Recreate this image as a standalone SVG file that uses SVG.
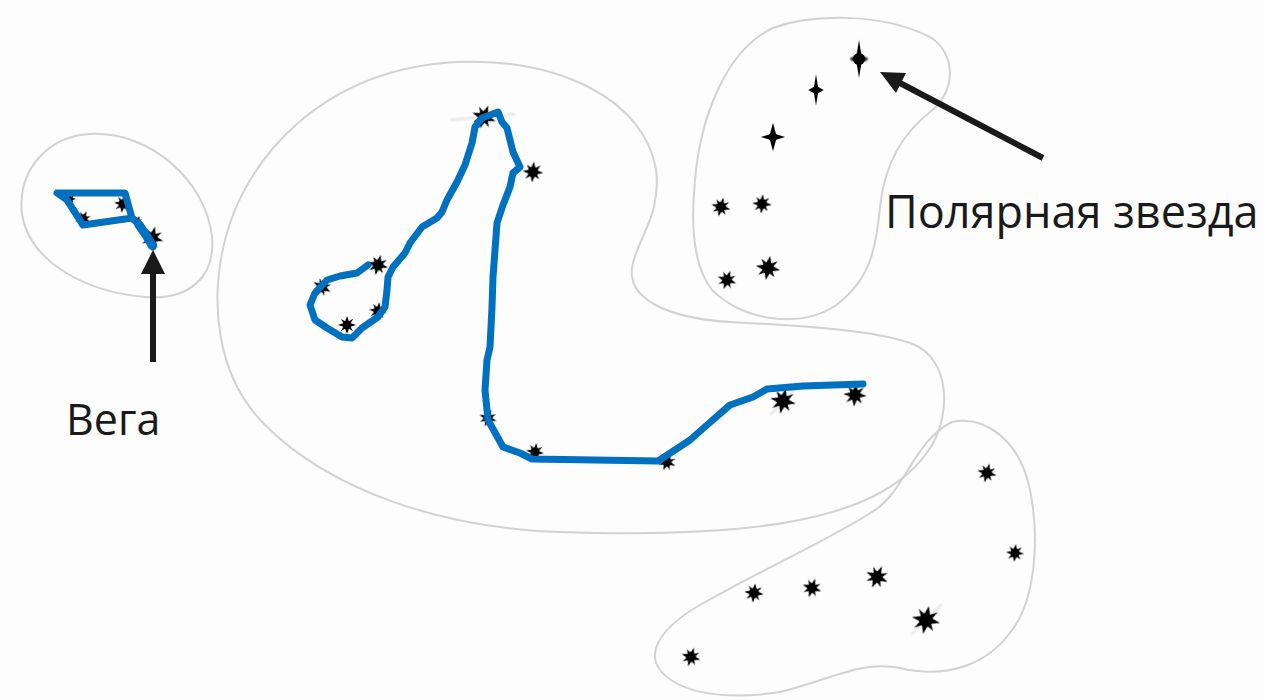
<svg xmlns="http://www.w3.org/2000/svg" width="1263" height="700" viewBox="0 0 1263 700">
  <style>
    .blob { fill: none; stroke: #d2d2d2; stroke-width: 2; }
    .route { fill: none; stroke: #0070c0; stroke-width: 7; stroke-linejoin: round; stroke-linecap: round; }
    .star { fill: #000; filter: url(#soft); }
    .glint { stroke: #999; stroke-width: 1.4; opacity: 0.4; filter: url(#haze); }
    .label { font-family: "Open Sans", "Liberation Sans", sans-serif; fill: #1a1a1a; }
    .pointer { fill: #1a1a1a; stroke: none; }
  </style>
  <defs>
    <filter id="soft" x="-50%" y="-50%" width="200%" height="200%">
      <feGaussianBlur stdDeviation="0.7"/>
    </filter>
    <filter id="haze" x="-50%" y="-50%" width="200%" height="200%">
      <feGaussianBlur stdDeviation="1.2"/>
    </filter>
    <!-- eight-ray star -->
    <symbol id="star8" overflow="visible">
      <polygon class="star" points="0,-13 2.6,-5.2 9,-9 5.2,-2.6 13,0 5.2,2.6 8.5,8.5 2.6,5.2 0,13 -2.6,5.2 -9,9 -5.2,2.6 -13,0 -5.2,-2.6 -8.5,-8.5 -2.6,-5.2"/>
      <circle class="star" r="6"/>
    </symbol>
    <!-- four-ray sparkle -->
    <symbol id="star4" overflow="visible">
      <polygon class="star" points="0,-15 2.8,-3 11,0 2.8,3 0,15 -2.8,3 -11,0 -2.8,-3"/>
      <circle class="star" r="4"/>
    </symbol>
  </defs>

  <rect width="1263" height="700" fill="#fdfdfd"/>

  <!-- constellation outlines -->
  <g id="outlines">
    <path id="lyra-outline" class="blob" d="M90,134 C150,131 205,180 212,236 C216,280 186,300 146,297 C90,293 30,264 22,214 C17,168 50,136 90,134 Z"/>
    <path id="draco-outline" class="blob" d="M455,62 C560,58 645,100 656,170 C662,215 636,240 632,268 C628,298 665,318 730,322 C800,326 880,330 915,345 C948,360 952,410 932,445 C905,490 850,512 783,523 C730,532 650,535 560,532 C440,528 330,490 265,425 C215,375 210,300 225,240 C245,160 320,70 455,62 Z"/>
    <path id="umi-outline" class="blob" d="M773,28 C810,14 880,12 930,37 C955,52 958,90 930,112 C905,132 885,160 880,207 C876,250 870,280 835,306 C800,328 745,322 712,290 C690,262 692,210 695,180 C700,120 725,50 773,28 Z"/>
    <path id="cas-outline" class="blob" d="M952,422 C985,415 1020,440 1030,490 C1040,540 1035,600 1012,630 C990,662 950,680 900,668 C860,660 830,680 780,692 C730,700 680,695 660,670 C645,650 665,625 700,605 C760,570 830,540 875,510 C905,490 915,440 952,422 Z"/>
  </g>

  <!-- faint glints around the brighter stars -->
  <g id="glints">
    <line class="glint" x1="484" y1="88" x2="484" y2="158"/>
    <line class="glint" x1="450" y1="120" x2="515" y2="114"/>
    <line class="glint" x1="859" y1="30" x2="859" y2="95"/>
    <line class="glint" x1="816" y1="66" x2="816" y2="116"/>
    <line class="glint" x1="773" y1="114" x2="773" y2="162"/>
    <line class="glint" x1="152" y1="220" x2="152" y2="258"/>
    <line class="glint" x1="298" y1="287" x2="346" y2="287"/>
    <line class="glint" x1="123" y1="184" x2="123" y2="224"/>
    <line class="glint" x1="83" y1="202" x2="83" y2="240"/>
    <line class="glint" x1="912" y1="634" x2="942" y2="604"/>
    <line class="glint" x1="770" y1="415" x2="798" y2="386"/>
  </g>

  <!-- stars -->
  <g id="stars">
    <g id="lyra-stars">
      <use href="#star8" transform="translate(123,204) scale(0.7) rotate(10)"/>
      <use href="#star8" transform="translate(83,219) scale(0.65) rotate(25)"/>
      <use href="#star8" transform="translate(152,238) scale(0.9) rotate(15)"/>
      <use href="#star8" transform="translate(137,221) scale(0.45) rotate(30)"/>
      <use href="#star8" transform="translate(70,199) scale(0.45)"/>
    </g>
    <g id="draco-stars">
      <use href="#star8" transform="translate(484,117) scale(0.95) rotate(20)"/>
      <use href="#star8" transform="translate(533,172) scale(0.8) rotate(5)"/>
      <use href="#star8" transform="translate(378,265) scale(0.8) rotate(15)"/>
      <use href="#star8" transform="translate(322,287) scale(0.75) rotate(30)"/>
      <use href="#star8" transform="translate(378,311) scale(0.7) rotate(10)"/>
      <use href="#star8" transform="translate(347,325) scale(0.7)"/>
      <use href="#star8" transform="translate(488,418) scale(0.7) rotate(20)"/>
      <use href="#star8" transform="translate(535,452) scale(0.7) rotate(10)"/>
      <use href="#star8" transform="translate(667,462) scale(0.7) rotate(25)"/>
      <use href="#star8" transform="translate(783,401) scale(1) rotate(12)"/>
      <use href="#star8" transform="translate(855,395) scale(0.9) rotate(5)"/>
    </g>
    <g id="umi-stars">
      <use href="#star4" transform="translate(859,59) scale(0.9,1.25)"/>
      <circle cx="859" cy="59" r="6" class="star"/>
      <use href="#star4" transform="translate(816,90) scale(0.7,1.05)"/>
      <use href="#star4" transform="translate(773,137) scale(1.1,0.95)"/>
      <use href="#star8" transform="translate(721,207) scale(0.75) rotate(15)"/>
      <use href="#star8" transform="translate(762,204) scale(0.75) rotate(5)"/>
      <use href="#star8" transform="translate(727,280) scale(0.75) rotate(20)"/>
      <use href="#star8" transform="translate(768,268) scale(0.95) rotate(10)"/>
    </g>
    <g id="cas-stars">
      <use href="#star8" transform="translate(987,473) scale(0.75) rotate(15)"/>
      <use href="#star8" transform="translate(1015,553) scale(0.7) rotate(5)"/>
      <use href="#star8" transform="translate(877,577) scale(0.9) rotate(25)"/>
      <use href="#star8" transform="translate(926,620) scale(1.1) rotate(12)"/>
      <use href="#star8" transform="translate(812,588) scale(0.75) rotate(20)"/>
      <use href="#star8" transform="translate(754,593) scale(0.75) rotate(8)"/>
      <use href="#star8" transform="translate(691,657) scale(0.75) rotate(18)"/>
    </g>
  </g>

  <!-- constellation figures -->
  <g id="connectors">
    <path id="lyra-figure" class="route" d="M57,193 L125,193 L132,218 L83,225 L67,200 Z M132,218 L140,225 L147,236 L153,247"/>
    <path id="lyra-tail" fill="none" stroke="#0070c0" stroke-width="9" stroke-linecap="round" d="M139,225 L146,235 L152,245"/>
    <path id="draco-figure" class="route" d="M368,265 L357,273 L340,276 L327,280 L315,293 L310,305 L315,320 L327,328 L342,337 L352,338 L362,328 L378,317 L385,307 L387,290 L388,277 L393,267 L405,253 L410,243 L422,227 L437,218 L442,212 L447,200 L457,182 L465,165 L472,143 L475,127 L482,118 L498,112 L502,122 L507,128 L513,152 L520,167 L513,173 L510,187 L503,205 L497,223 L495,250 L493,277 L492,307 L490,347 L487,360 L485,390 L488,420 L503,447 L520,453 L532,459 L658,461 L678,448 L690,440 L707,425 L730,405 L753,397 L767,389 L803,386 L863,384"/>
    <g id="vega-pointer">
      <rect class="pointer" x="150" y="270" width="6" height="92"/>
      <polygon class="pointer" points="153,250 165,274 141,274"/>
    </g>
    <g id="polaris-pointer">
      <line x1="1043" y1="158" x2="898" y2="82" stroke="#1a1a1a" stroke-width="6"/>
      <polygon class="pointer" points="880,72 896,93 906,73"/>
    </g>
  </g>

  <!-- labels -->
  <g id="vega-label">
    <text class="label" x="66" y="435" font-size="43">Вега</text>
  </g>
  <g id="polaris-label">
    <text class="label" x="885" y="228" font-size="45">Полярная звезда</text>
  </g>
</svg>
